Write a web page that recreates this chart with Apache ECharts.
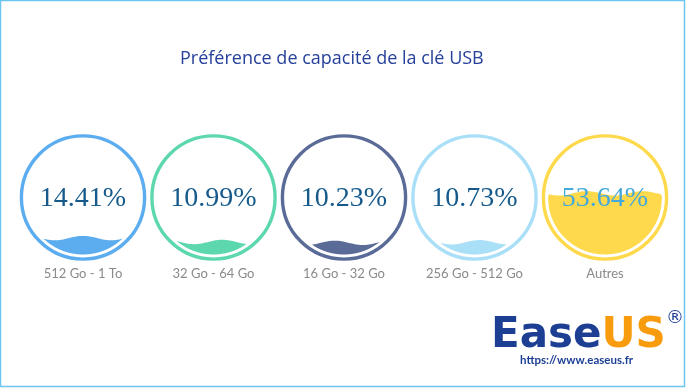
<!DOCTYPE html>
<html>
<head>
<meta charset="utf-8">
<script src="https://cdn.jsdelivr.net/npm/echarts@6/dist/echarts.min.js"></script>
<style>
html,body{margin:0;padding:0;background:#fff;}
#chart{width:687px;height:390px;}
</style>
</head>
<body>
<div id="chart"></div>
<script>
const titleText = 'Préférence de capacité de la clé USB';
const categories = ['512 Go - 1 To', '32 Go - 64 Go', '16 Go - 32 Go', '256 Go - 512 Go', 'Autres'];
const values = [14.41, 10.99, 10.23, 10.73, 53.64];
const colors = ['#5badf0', '#5dd8ae', '#5a6b98', '#aadff8', '#fed94c'];
const textColors = ['#165a8c', '#165a8c', '#165a8c', '#165a8c', '#45a8dc'];
const phases = [1.57, 0.6, 2.6, 1.0, 3.6];

const chart = echarts.init(document.getElementById('chart'), null, {renderer: 'canvas'});

function renderItem(params, api) {
  const i = api.value(0);
  const v = api.value(1);
  const c = api.coord([i, 50]);
  const top = api.coord([i, 100])[1];
  const bot = api.coord([i, 0])[1];
  const r = (bot - top) / 2;
  const cx = c[0], cy = c[1];
  const level = api.coord([i, v])[1];
  const L = 56, A = 2.2, ph = phases[params.dataIndex];
  const pts = [];
  for (let x = -r; x <= r + 0.001; x += 1) {
    const h = Math.sqrt(Math.max(0, r * r - x * x));
    let y = level - A * Math.sin(2 * Math.PI * x / L + ph);
    y = Math.min(Math.max(y, cy - h), cy + h);
    pts.push([cx + x, y]);
  }
  for (let x = r; x >= -r - 0.001; x -= 1) {
    const h = Math.sqrt(Math.max(0, r * r - x * x));
    pts.push([cx + x, cy + h]);
  }
  const col = colors[params.dataIndex];
  return {
    type: 'group',
    children: [
      {type: 'circle', shape: {cx: cx, cy: cy, r: r + 4.6}, style: {fill: 'none', stroke: col, lineWidth: 3.4}},
      {type: 'polygon', shape: {points: pts}, style: {fill: col}},
      {type: 'text', x: cx, y: cy + 1, style: {text: v.toFixed(2) + '%', fill: textColors[params.dataIndex],
        font: '28px "Liberation Serif", serif', align: 'center', verticalAlign: 'middle'}}
    ]
  };
}

chart.setOption({
  backgroundColor: '#ffffff',
  animation: false,
  title: {
    text: titleText, left: 175, top: 45,
    textStyle: {fontFamily: 'Open Sans', fontSize: 18, fontWeight: 'normal', color: '#25409a'}
  },
  grid: {left: 17.75, width: 652.5, top: 140.5, height: 114},
  xAxis: {
    type: 'category', data: categories, boundaryGap: true,
    axisLine: {show: false}, axisTick: {show: false}, splitLine: {show: false},
    axisLabel: {margin: 13, color: '#8a8a8a', fontFamily: 'Lato', fontSize: 13, interval: 0}
  },
  yAxis: {type: 'value', min: 0, max: 100, show: false},
  series: [{
    type: 'custom', renderItem: renderItem,
    data: values.map((v, i) => [i, v]),
    encode: {x: 0, y: 1}, clip: false
  }],
  graphic: [
    {type: 'rect', shape: {x: 0.5, y: 0.5, width: 684, height: 386}, style: {fill: 'none', stroke: '#6cc6ee', lineWidth: 1.5}, silent: true},
    {type: 'text', x: 491, y: 336, style: {text: '{a|Ease}{b|US}', verticalAlign: 'middle', align: 'left',
      rich: {a: {font: 'bold 42px "DejaVu Sans"', fill: '#1c3f94'}, b: {font: 'bold 42px "DejaVu Sans"', fill: '#f89c0e'}}}},
    {type: 'text', x: 675, y: 318, style: {text: '®', font: '18px "DejaVu Sans"', fill: '#1c3f94', align: 'center', verticalAlign: 'middle'}},
    {type: 'text', x: 520, y: 360, style: {text: 'https://www.easeus.fr', font: 'bold 11.5px Lato', fill: '#1c3f94', align: 'left', verticalAlign: 'middle'}}
  ]
});
</script>
</body>
</html>
